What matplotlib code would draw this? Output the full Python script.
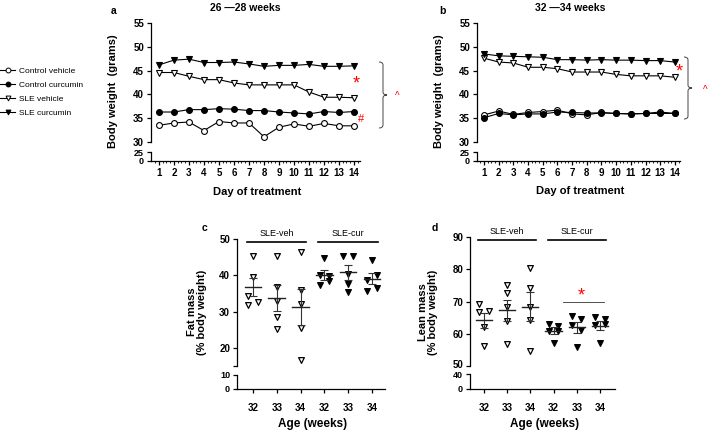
import numpy as np
import matplotlib.pyplot as plt
import matplotlib.transforms as mtrans
from matplotlib.lines import Line2D
from matplotlib.path import Path
from matplotlib.patches import PathPatch

plt.rcParams['font.family'] = ['Liberation Sans', 'DejaVu Sans']
plt.rcParams['axes.linewidth'] = 0.9

W, H = 709, 433

# --- data: body weight (grams), days 1..14 ---
days = list(range(1, 15))
a_ctrl_veh = [33.5, 34.0, 34.2, 32.4, 34.3, 34.0, 34.0, 31.1, 33.1, 33.8, 33.3, 33.9, 33.4, 33.4]
a_ctrl_cur = [36.3, 36.3, 36.8, 36.8, 37.0, 36.9, 36.6, 36.6, 36.3, 36.1, 35.9, 36.4, 36.2, 36.4]
a_sle_veh = [44.6, 44.6, 43.8, 43.1, 43.1, 42.4, 42.0, 42.0, 42.0, 42.0, 40.5, 39.4, 39.4, 39.3]
a_sle_cur = [46.2, 47.2, 47.4, 46.7, 46.7, 46.8, 46.4, 45.9, 46.1, 46.1, 46.3, 45.9, 45.9, 46.0]

b_ctrl_veh = [35.7, 36.5, 35.8, 36.2, 36.4, 36.7, 35.9, 35.7, 36.2, 36.0, 35.9, 36.0, 36.3, 36.0]
b_ctrl_cur = [35.1, 36.0, 35.7, 35.9, 35.9, 36.3, 36.2, 36.1, 36.1, 36.0, 35.9, 36.0, 36.0, 36.0]
b_sle_veh = [47.6, 46.8, 46.6, 45.7, 45.7, 45.4, 44.7, 44.7, 44.7, 44.2, 43.9, 43.9, 43.9, 43.6]
b_sle_cur = [48.5, 48.1, 48.0, 47.9, 47.8, 47.3, 47.3, 47.2, 47.3, 47.2, 47.2, 47.1, 47.1, 46.8]

# --- data: body composition, ages 32/33/34 weeks, SLE-veh then SLE-cur ---
age_labels = ['32', '33', '34', '32', '33', '34']
fat_mass = [
    [45.3, 39.6, 34.4, 31.8, 32.6],
    [45.3, 36.9, 33.0, 28.4, 25.1],
    [46.3, 36.0, 32.1, 25.4, 16.7],
    [44.8, 40.2, 39.9, 37.3, 38.4],
    [45.4, 45.4, 40.3, 37.6, 35.3],
    [44.2, 40.1, 38.7, 36.4, 35.8],
]
lean_mass = [
    [69.1, 66.7, 67.2, 62.0, 56.1],
    [75.0, 72.6, 68.4, 63.8, 56.8],
    [80.5, 74.3, 68.2, 64.4, 54.5],
    [63.1, 62.5, 61.0, 60.8, 57.0],
    [65.6, 64.6, 62.6, 61.3, 55.8],
    [65.2, 64.7, 63.1, 62.6, 57.1],
]
# horizontal scatter layout within each group
fat_jitter = [
    [0, 0, -0.22, -0.22, 0.22],
    [0, 0, 0, 0, 0],
    [0, 0, 0, 0, 0],
    [0, -0.2, 0.2, -0.2, 0.2],
    [-0.2, 0.2, 0, 0, 0],
    [0, 0.2, -0.22, 0.2, -0.22],
]
lean_jitter = [
    [-0.2, -0.2, 0.2, 0, 0],
    [0, 0, 0, 0, 0],
    [0, 0, 0, 0, 0],
    [-0.2, 0.2, -0.2, 0.2, 0],
    [-0.2, 0.2, -0.2, 0.2, 0],
    [-0.2, 0.2, 0.2, -0.2, 0],
]


def fx(px):
    return px / W


def fy(py):
    return 1 - py / H


def nudge(label, dy_px):
    label.set_transform(label.get_transform() +
                        mtrans.ScaledTranslation(0, dy_px / 100, fig.dpi_scale_trans))


def broken(x0, x1, up, low, up_lim, low_lim, up_ticks, low_ticks, fs):
    # upper and lower part of a GraphPad style broken y axis
    ax_u = fig.add_axes([fx(x0), fy(up[1]), (x1 - x0) / W, (up[1] - up[0]) / H])
    ax_l = fig.add_axes([fx(x0), fy(low[1]), (x1 - x0) / W, (low[1] - low[0]) / H])
    for ax in (ax_u, ax_l):
        ax.spines['top'].set_visible(False)
        ax.spines['right'].set_visible(False)
        ax.patch.set_alpha(0)
        ax.tick_params(axis='both', length=3, width=0.9, labelsize=fs, pad=2)
    ax_l.tick_params(axis='y', labelsize=fs - 0.5)
    ax_u.spines['bottom'].set_visible(False)
    ax_u.tick_params(axis='x', bottom=False, labelbottom=False)
    ax_u.set_ylim(*up_lim)
    ax_l.set_ylim(*low_lim)
    ax_u.set_yticks(up_ticks)
    ax_l.set_yticks(low_ticks)
    for ax in (ax_u, ax_l):
        for t in ax.get_yticklabels() + ax.get_xticklabels():
            t.set_fontweight('bold')
    return ax_u, ax_l


fig = plt.figure(figsize=(W / 100, H / 100), dpi=100)

series_style = [
    dict(marker='o', mfc='white', label='Control vehicle'),
    dict(marker='o', mfc='black', label='Control curcumin'),
    dict(marker='v', mfc='white', label='SLE vehicle'),
    dict(marker='v', mfc='black', label='SLE curcumin'),
]


def weight_panel(x0, x1, y_series, xlim):
    ax_u, ax_l = broken(x0, x1, (23, 142), (152, 161), (30, 55), (0, 25),
                        [30, 35, 40, 45, 50, 55], [0, 25], 7)
    for ys, st in zip(y_series, series_style):
        ax_u.plot(days, ys, color='black', lw=0.8, marker=st['marker'],
                  mfc=st['mfc'], mec='black', mew=0.8, ms=4.2, clip_on=False)
    for ax in (ax_u, ax_l):
        ax.set_xlim(*xlim)
    ax_l.set_xticks(days)
    ax_l.set_xticks(np.arange(0.75, 14.4, 0.25), minor=True)
    ax_l.tick_params(axis='x', which='minor', length=1.5, width=0.6)
    ax_l.set_xticklabels([str(d) for d in days], fontweight='bold', fontsize=7)
    return ax_u, ax_l


a_u, a_l = weight_panel(151, 360, [a_ctrl_veh, a_ctrl_cur, a_sle_veh, a_sle_cur], (0.47, 14.4))
b_u, b_l = weight_panel(477, 680, [b_ctrl_veh, b_ctrl_cur, b_sle_veh, b_sle_cur], (0.52, 14.35))

fig.text(fx(245), fy(8), '26 \u201428 weeks', ha='center', va='center', fontsize=7.5, fontweight='bold')
fig.text(fx(570), fy(8), '32 \u201434 weeks', ha='center', va='center', fontsize=7.5, fontweight='bold')
fig.text(fx(114), fy(11), 'a', ha='center', va='center', fontsize=7.5, fontweight='bold')
fig.text(fx(442), fy(11), 'b', ha='center', va='center', fontsize=7.5, fontweight='bold')
fig.text(fx(113), fy(91), 'Body weight  (grams)', rotation=90, ha='center', va='center', fontsize=8, fontweight='bold')
fig.text(fx(439), fy(91), 'Body weight  (grams)', rotation=90, ha='center', va='center', fontsize=8, fontweight='bold')
fig.text(fx(257), fy(192), 'Day of treatment', ha='center', va='center', fontsize=8, fontweight='bold')
fig.text(fx(580), fy(191), 'Day of treatment', ha='center', va='center', fontsize=8, fontweight='bold')

# significance marks
fig.text(fx(356), fy(84), '*', color='red', ha='center', va='center', fontsize=13)
fig.text(fx(361), fy(119), '#', color='red', ha='center', va='center', fontsize=8)
fig.text(fx(679), fy(72), '*', color='red', ha='center', va='center', fontsize=13)
fig.text(fx(397), fy(96), '^', color='red', ha='center', va='center', fontsize=7)
fig.text(fx(705), fy(90), '^', color='red', ha='center', va='center', fontsize=7)


def brace(x, y0, y1):
    xm = x + 4
    ym = (y0 + y1) / 2
    verts = [(x, y0), (xm, y0), (xm, y0 + 3),
             (xm, ym - 3),
             (xm, ym), (xm + 4, ym),
             (xm, ym), (xm, ym + 3),
             (xm, y1 - 3),
             (xm, y1), (x, y1)]
    codes = [Path.MOVETO, Path.CURVE3, Path.CURVE3, Path.LINETO,
             Path.CURVE3, Path.CURVE3, Path.CURVE3, Path.CURVE3,
             Path.LINETO, Path.CURVE3, Path.CURVE3]
    pts = [(fx(px), fy(py)) for px, py in verts]
    fig.add_artist(PathPatch(Path(pts, codes), transform=fig.transFigure,
                             fill=False, lw=0.7, color='#444444'))


brace(379, 62, 128)
brace(684, 57, 119)

# legend
handles = [Line2D([], [], color='black', lw=0.8, marker=st['marker'], mfc=st['mfc'],
                  mec='black', mew=0.7, ms=3.5) for st in series_style]
fig.legend(handles, [st['label'] for st in series_style], loc='center left',
           bbox_to_anchor=(0.0, fy(92)), frameon=False, fontsize=6,
           handlelength=1.8, handletextpad=0.5, labelspacing=0.75, borderpad=0, borderaxespad=0)


def comp_panel(x0, x1, up, low, up_lim, low_lim, up_ticks, up_labels, low_ticks,
               groups, jitter, xlim):
    ax_u, ax_l = broken(x0, x1, up, low, up_lim, low_lim, up_ticks, low_ticks, 7)
    ax_u.set_yticklabels(up_labels, fontweight='bold')
    for i, (vals, jit) in enumerate(zip(groups, jitter)):
        xc = i + 1
        filled = i >= 3
        ax_u.scatter(np.array(jit) + xc, vals, marker='v', s=17,
                     facecolor='black' if filled else 'white', edgecolor='black',
                     linewidth=0.9, zorder=3, clip_on=False)
        v = np.array(vals)
        m = v.mean()
        se = v.std(ddof=1) / np.sqrt(len(v))
        ax_u.errorbar(xc, m, yerr=se, color='#333333', lw=0.8, capsize=3, capthick=0.8, zorder=4)
        ax_u.plot([xc - 0.35, xc + 0.35], [m, m], color='#222222', lw=1.0, zorder=4)
    for ax in (ax_u, ax_l):
        ax.set_xlim(*xlim)
    ax_l.set_xticks(range(1, 7))
    ax_l.set_xticklabels(age_labels, fontweight='bold', fontsize=7)
    ax_l.tick_params(axis='x', pad=7)
    return ax_u, ax_l


c_u, c_l = comp_panel(237, 385, (239, 366), (375, 389), (15, 50), (0, 10),
                      [15, 20, 30, 40, 50], ['', '20', '30', '40', '50'], [0, 10],
                      fat_mass, fat_jitter, (0.33, 6.55))
d_u, d_l = comp_panel(470, 615, (237, 366), (374, 389), (50, 90), (0, 40),
                      [50, 60, 70, 80, 90], ['50', '60', '70', '80', '90'], [0, 40],
                      lean_mass, lean_jitter, (0.40, 6.65))

# keep the crowded labels at the axis break apart
nudge(d_u.get_yticklabels()[0], 1.5)
nudge(d_l.get_yticklabels()[1], -1.0)

for ax in (c_u, d_u):
    top = ax.get_ylim()[1]
    span = ax.get_ylim()[1] - ax.get_ylim()[0]
    yb = top - span * 0.025
    ax.plot([0.75, 3.25], [yb, yb], color='black', lw=1.2, clip_on=False)
    ax.plot([3.75, 6.25], [yb, yb], color='black', lw=1.2, clip_on=False)
    ax.text(2, yb + span * 0.03, 'SLE-veh', ha='center', va='bottom', fontsize=6.5)
    ax.text(5, yb + span * 0.03, 'SLE-cur', ha='center', va='bottom', fontsize=6.5)

d_u.plot([4.4, 6.17], [70, 70], color='#333333', lw=0.6)
d_u.text(5.18, 71.8, '*', color='red', ha='center', va='center', fontsize=13)

fig.text(fx(205), fy(228), 'c', ha='center', va='center', fontsize=7.5, fontweight='bold')
fig.text(fx(435), fy(228), 'd', ha='center', va='center', fontsize=7.5, fontweight='bold')
fig.text(fx(197), fy(312), 'Fat mass\n(% body weight)', rotation=90, ha='center', va='center',
         fontsize=8, fontweight='bold', linespacing=1.0)
fig.text(fx(428), fy(312), 'Lean mass\n(% body weight)', rotation=90, ha='center', va='center',
         fontsize=8, fontweight='bold', linespacing=1.0)
fig.text(fx(313), fy(424), 'Age (weeks)', ha='center', va='center', fontsize=8.5, fontweight='bold')
fig.text(fx(545), fy(424), 'Age (weeks)', ha='center', va='center', fontsize=8.5, fontweight='bold')

fig.savefig('out.png', dpi=100)
